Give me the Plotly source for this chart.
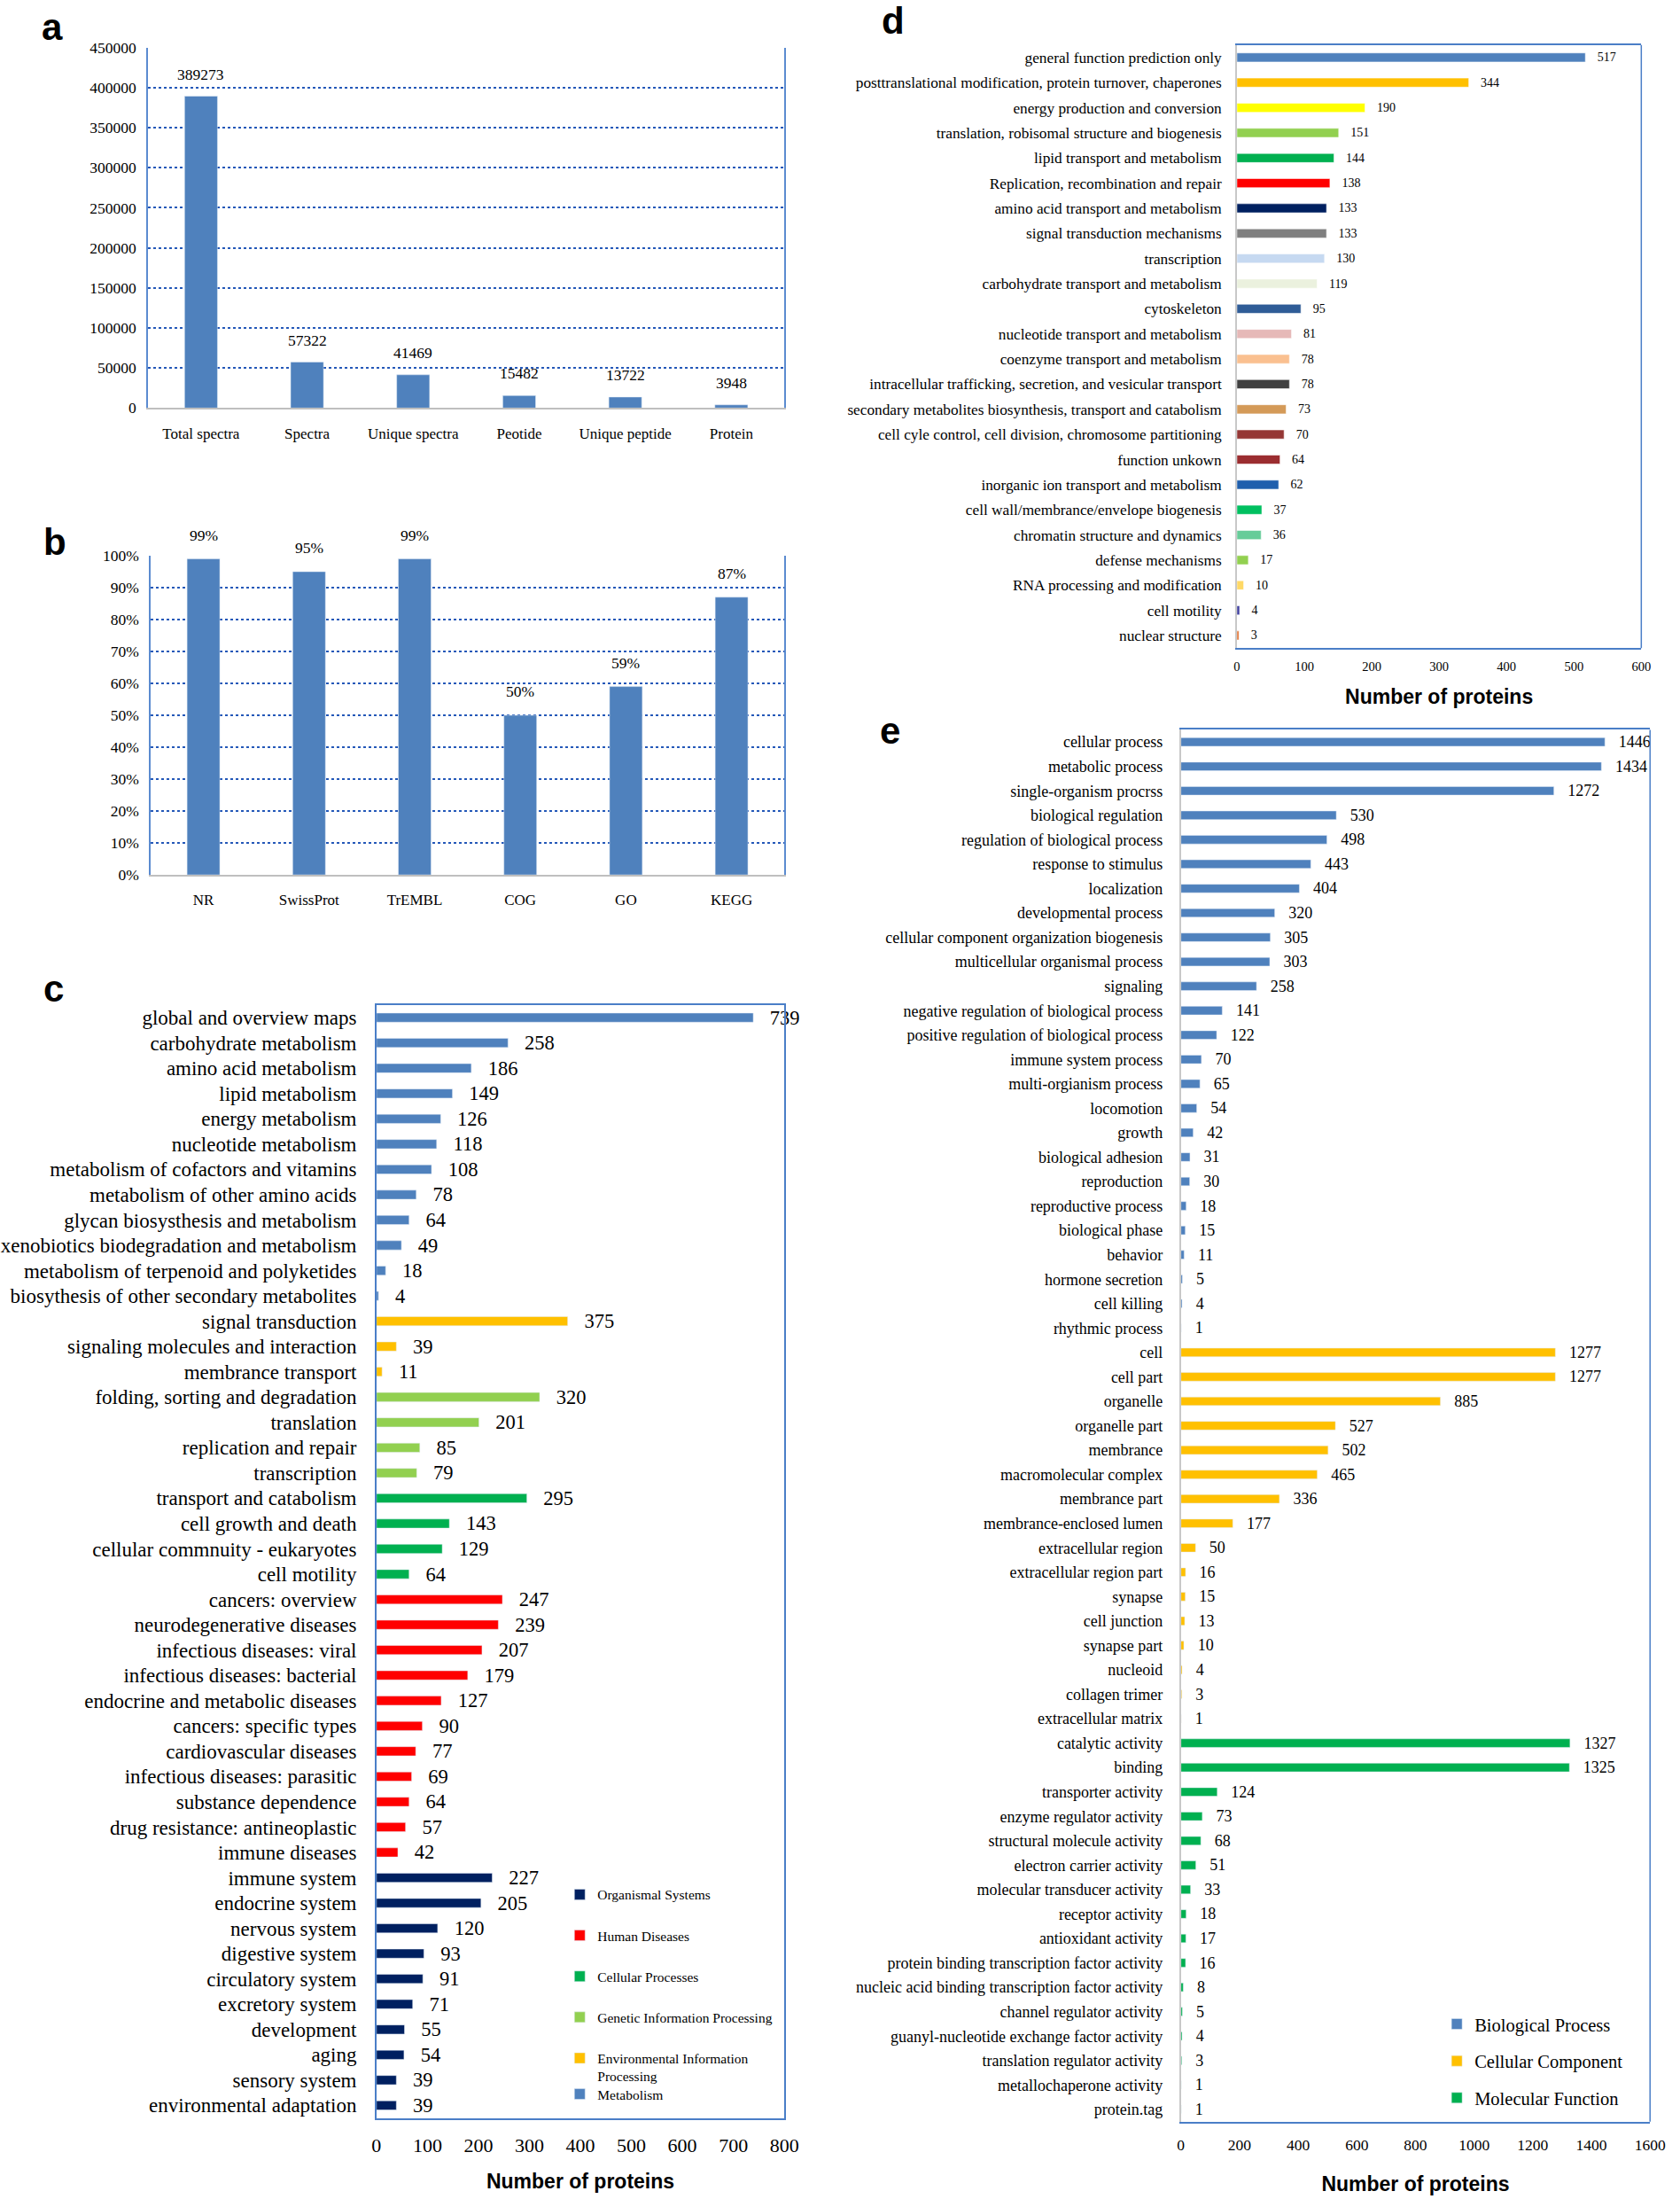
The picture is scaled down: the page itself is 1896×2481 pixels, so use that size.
import plotly.graph_objects as go

W, H = 1896, 2481

# ---------------- data ----------------
a_cats = ["Total spectra", "Spectra", "Unique spectra", "Peotide", "Unique peptide", "Protein"]
a_vals = [389273, 57322, 41469, 15482, 13722, 3948]

b_cats = ["NR", "SwissProt", "TrEMBL", "COG", "GO", "KEGG"]
b_vals = [0.99, 0.95, 0.99, 0.50, 0.59, 0.87]

c_met_cats = ["global and overview maps", "carbohydrate metabolism", "amino acid metabolism",
              "lipid metabolism", "energy metabolism", "nucleotide metabolism",
              "metabolism of cofactors and vitamins", "metabolism of other amino acids",
              "glycan biosysthesis and metabolism", "xenobiotics biodegradation and metabolism",
              "metabolism of terpenoid and polyketides", "biosythesis of other secondary metabolites"]
c_met_vals = [739, 258, 186, 149, 126, 118, 108, 78, 64, 49, 18, 4]
c_env_cats = ["signal transduction", "signaling molecules and interaction", "membrance transport"]
c_env_vals = [375, 39, 11]
c_gen_cats = ["folding, sorting and degradation", "translation", "replication and repair", "transcription"]
c_gen_vals = [320, 201, 85, 79]
c_cel_cats = ["transport and catabolism", "cell growth and death", "cellular commnuity - eukaryotes", "cell motility"]
c_cel_vals = [295, 143, 129, 64]
c_hum_cats = ["cancers: overview", "neurodegenerative diseases", "infectious diseases: viral",
              "infectious diseases: bacterial", "endocrine and metabolic diseases", "cancers: specific types",
              "cardiovascular diseases", "infectious diseases: parasitic", "substance dependence",
              "drug resistance: antineoplastic", "immune diseases"]
c_hum_vals = [247, 239, 207, 179, 127, 90, 77, 69, 64, 57, 42]
c_org_cats = ["immune system", "endocrine system", "nervous system", "digestive system",
              "circulatory system", "excretory system", "development", "aging",
              "sensory system", "environmental adaptation"]
c_org_vals = [227, 205, 120, 93, 91, 71, 55, 54, 39, 39]

d_cats = ["general function prediction only", "posttranslational modification, protein turnover, chaperones",
          "energy production and conversion", "translation, robisomal structure and biogenesis",
          "lipid transport and metabolism", "Replication, recombination and repair",
          "amino acid transport and metabolism", "signal transduction mechanisms", "transcription",
          "carbohydrate transport and metabolism", "cytoskeleton", "nucleotide transport and metabolism",
          "coenzyme transport and metabolism", "intracellular trafficking, secretion, and vesicular transport",
          "secondary metabolites biosynthesis, transport and catabolism",
          "cell cyle control, cell division, chromosome partitioning", "function unkown",
          "inorganic ion transport and metabolism", "cell wall/membrance/envelope biogenesis",
          "chromatin structure and dynamics", "defense mechanisms", "RNA processing and modification",
          "cell motility", "nuclear structure"]
d_vals = [517, 344, 190, 151, 144, 138, 133, 133, 130, 119, 95, 81, 78, 78, 73, 70, 64, 62, 37, 36, 17, 10, 4, 3]
d_colors = ["#4F81BD", "#FFC000", "#FFFF00", "#92D050", "#00B050", "#FF0000", "#002060", "#7F7F7F",
            "#C6D9F1", "#EBF1DE", "#2F5C97", "#E6B9B8", "#FAC090", "#404040", "#D49A58", "#953735",
            "#9B2D30", "#1F5FAD", "#00C060", "#66CC99", "#92D050", "#FFD966", "#4040A0", "#E07030"]

e_bp_cats = ["cellular process", "metabolic process", "single-organism procrss", "biological regulation",
             "regulation of biological process", "response to stimulus", "localization",
             "developmental process", "cellular component organization biogenesis",
             "multicellular organismal process", "signaling", "negative regulation of biological process",
             "positive regulation of biological process", "immune system process", "multi-orgianism process",
             "locomotion", "growth", "biological adhesion", "reproduction", "reproductive process",
             "biological phase", "behavior", "hormone secretion", "cell killing", "rhythmic process"]
e_bp_vals = [1446, 1434, 1272, 530, 498, 443, 404, 320, 305, 303, 258, 141, 122, 70, 65, 54, 42, 31, 30,
             18, 15, 11, 5, 4, 1]
e_cc_cats = ["cell", "cell part", "organelle", "organelle part", "membrance", "macromolecular complex",
             "membrance part", "membrance-enclosed lumen", "extracellular region", "extracellular region part",
             "synapse", "cell junction", "synapse part", "nucleoid", "collagen trimer", "extracellular matrix"]
e_cc_vals = [1277, 1277, 885, 527, 502, 465, 336, 177, 50, 16, 15, 13, 10, 4, 3, 1]
e_mf_cats = ["catalytic activity", "binding", "transporter activity", "enzyme regulator activity",
             "structural molecule activity", "electron carrier activity", "molecular transducer activity",
             "receptor activity", "antioxidant activity", "protein binding transcription factor activity",
             "nucleic acid binding transcription factor activity", "channel regulator activity",
             "guanyl-nucleotide exchange factor activity", "translation regulator activity",
             "metallochaperone activity", "protein.tag"]
e_mf_vals = [1327, 1325, 124, 73, 68, 51, 33, 18, 17, 16, 8, 5, 4, 3, 1, 1]

# ---------------- helpers ----------------
SERIF = "Liberation Serif, Times New Roman, serif"
SANS = "Liberation Sans, Arial, sans-serif"
FRAME = "#4A7EC7"
LEFTGRAY = "#C8C8C8"
NB = "\u00a0"


def fx(px):
    return px / W


def fy(px):
    return 1 - px / H


fig = go.Figure()

# panel a
fig.add_trace(go.Bar(x=a_cats, y=a_vals, width=0.31, marker_color="#4F81BD",
                     showlegend=False, xaxis="x", yaxis="y"))
# panel b
fig.add_trace(go.Bar(x=b_cats, y=b_vals, width=0.31, marker_color="#4F81BD",
                     showlegend=False, xaxis="x2", yaxis="y2"))

# panel c (legend order: Organismal first; Metabolism in its own legend box)
c_groups = [
    ("Organismal Systems", c_org_cats, c_org_vals, "#002060", "legend"),
    ("Human Diseases", c_hum_cats, c_hum_vals, "#FF0000", "legend"),
    ("Cellular Processes", c_cel_cats, c_cel_vals, "#00B050", "legend"),
    ("Genetic Information Processing", c_gen_cats, c_gen_vals, "#92D050", "legend"),
    ("Environmental Information<br>Processing", c_env_cats, c_env_vals, "#FFC000", "legend"),
    ("Metabolism", c_met_cats, c_met_vals, "#4F81BD", "legend3"),
]
for name, cats, vals, col, lg in c_groups:
    fig.add_trace(go.Bar(y=cats, x=vals, orientation="h", width=0.36, marker_color=col, name=name,
                         legendgroup=name, legend=lg,
                         text=[NB * 2 + "\u2009" + str(v) for v in vals], textposition="outside",
                         constraintext="none", cliponaxis=False,
                         textfont=dict(family=SERIF, size=22.5, color="#000"),
                         xaxis="x3", yaxis="y3"))
c_order = c_met_cats + c_env_cats + c_gen_cats + c_cel_cats + c_hum_cats + c_org_cats

# panel d
fig.add_trace(go.Bar(y=d_cats, x=d_vals, orientation="h", width=0.36, marker_color=d_colors,
                     marker_line=dict(color="rgba(255,255,255,0.55)", width=1),
                     text=[NB * 3 + str(v) for v in d_vals], textposition="outside", constraintext="none",
                     cliponaxis=False, textfont=dict(family=SERIF, size=14, color="#000"),
                     showlegend=False, xaxis="x4", yaxis="y4"))

# panel e
e_groups = [
    ("Biological Process", e_bp_cats, e_bp_vals, "#4F81BD"),
    ("Cellular Component", e_cc_cats, e_cc_vals, "#FFC000"),
    ("Molecular Function", e_mf_cats, e_mf_vals, "#00B050"),
]
for name, cats, vals, col in e_groups:
    fig.add_trace(go.Bar(y=cats, x=vals, orientation="h", width=0.35, marker_color=col, name=name,
                         legendgroup="e_" + name, legend="legend2",
                         text=[NB * 2 + "\u2009" + str(v) for v in vals], textposition="outside",
                         constraintext="none", cliponaxis=False,
                         textfont=dict(family=SERIF, size=18, color="#000"),
                         xaxis="x5", yaxis="y5"))
e_order = e_bp_cats + e_cc_cats + e_mf_cats


def tick_serif(s):
    return dict(family=SERIF, size=s, color="#000")


def ytitle_font():
    return dict(family=SANS, size=23, color="#000")


layout = dict(
    width=W, height=H, margin=dict(l=0, r=0, t=0, b=0),
    paper_bgcolor="white", plot_bgcolor="white", barmode="overlay",
    font=dict(family=SERIF, color="#000"),
    # a
    xaxis=dict(domain=[fx(163), fx(890)], anchor="y", type="category", range=[-0.5, 5.5],
               showline=True, linecolor="#BFBFBF", linewidth=2, ticks="", showgrid=False,
               tickfont=tick_serif(17), ticklabelstandoff=12),
    yaxis=dict(domain=[fy(454), fy(44)], anchor="x", range=[0, 450000], dtick=50000, tickformat="d",
               showgrid=True, gridcolor="#2458B8", griddash="dot", gridwidth=2, zeroline=False,
               showline=True, mirror=True, linecolor="#5B8BD0", linewidth=1.5, ticks="",
               tickfont=tick_serif(17.5), ticklabelstandoff=8),
    # b
    xaxis2=dict(domain=[fx(166), fx(890)], anchor="y2", type="category", range=[-0.5, 5.5],
                showline=True, linecolor="#BFBFBF", linewidth=2, ticks="", showgrid=False,
                tickfont=tick_serif(17), ticklabelstandoff=12),
    yaxis2=dict(domain=[fy(985), fy(622)], anchor="x2", range=[0, 1], dtick=0.1, tickformat=".0%",
                showgrid=True, gridcolor="#2458B8", griddash="dot", gridwidth=2, zeroline=False,
                showline=True, mirror=True, linecolor="#5B8BD0", linewidth=1.5, ticks="",
                tickfont=tick_serif(17.5), ticklabelstandoff=8),
    # c
    xaxis3=dict(domain=[fx(424), fx(890)], anchor="y3", range=[0, 800], dtick=100, showgrid=False,
                zeroline=False, showline=True, mirror=True, linecolor=FRAME, linewidth=1.5, ticks="",
                tickfont=tick_serif(22), ticklabelstandoff=10,
                title=dict(text="<b>Number of proteins</b>", font=ytitle_font(), standoff=21)),
    yaxis3=dict(domain=[fy(2399), fy(1133)], anchor="x3", type="category", categoryorder="array",
                categoryarray=c_order, range=[len(c_order) - 0.5, -0.5], showgrid=False,
                showline=True, mirror=True, linecolor=FRAME, linewidth=1.5, ticks="",
                tickfont=tick_serif(23), ticklabelstandoff=16),
    # d
    xaxis4=dict(domain=[fx(1407), fx(1869)], anchor="y4", range=[0, 600], dtick=100, showgrid=False,
                zeroline=False, showline=True, mirror=True, linecolor=FRAME, linewidth=1.5, ticks="",
                tickfont=tick_serif(14.5), ticklabelstandoff=7,
                title=dict(text="<b>Number of proteins</b>", font=ytitle_font(), standoff=19)),
    yaxis4=dict(domain=[fy(727), fy(41)], anchor="x4", type="category", categoryorder="array",
                categoryarray=d_cats, range=[len(d_cats) - 0.5, -0.5], showgrid=False,
                showline=True, mirror=False, linecolor=LEFTGRAY, linewidth=1.5, ticks="",
                tickfont=tick_serif(17.3), ticklabelstandoff=12),
    # e
    xaxis5=dict(domain=[fx(1343), fx(1879)], anchor="y5", range=[0, 1600], dtick=200, showgrid=False,
                zeroline=False, showline=True, mirror=True, linecolor=FRAME, linewidth=1.5, ticks="",
                tickfont=tick_serif(17.5), ticklabelstandoff=10,
                title=dict(text="<b>Number of proteins</b>", font=ytitle_font(), standoff=27)),
    yaxis5=dict(domain=[fy(2403), fy(820)], anchor="x5", type="category", categoryorder="array",
                categoryarray=e_order, range=[len(e_order) - 0.5, -0.5], showgrid=False,
                showline=True, mirror=False, linecolor=LEFTGRAY, linewidth=1.5, ticks="",
                tickfont=tick_serif(18), ticklabelstandoff=15),
    legend=dict(x=fx(636), y=fy(2128), xanchor="left", yanchor="top", bgcolor="rgba(0,0,0,0)",
                font=dict(family=SERIF, size=15.5, color="#000"), traceorder="grouped",
                tracegroupgap=23, valign="top", itemwidth=30),
    legend3=dict(x=fx(636), y=fy(2355), xanchor="left", yanchor="top", bgcolor="rgba(0,0,0,0)",
                 font=dict(family=SERIF, size=15.5, color="#000"), itemwidth=30),
    legend2=dict(x=fx(1638), y=fy(2272), xanchor="left", yanchor="top", bgcolor="rgba(0,0,0,0)",
                 font=dict(family=SERIF, size=20.5, color="#000"), traceorder="grouped",
                 tracegroupgap=12, itemwidth=30),
)

# right-hand frame edges for d and e (left edge is light gray there)
layout["shapes"] = [
    dict(type="line", xref="x4 domain", yref="y4 domain", x0=1, x1=1, y0=0, y1=1,
         line=dict(color=FRAME, width=1.5)),
    dict(type="line", xref="x5 domain", yref="y5 domain", x0=1, x1=1, y0=0, y1=1,
         line=dict(color=FRAME, width=1.5)),
]

ann = []
letters = [("a", 54, 21), ("b", 57, 606), ("c", 55, 1114), ("d", 1014, 14), ("e", 1011, 821)]
for t, x, y in letters:
    ann.append(dict(text="<b>%s</b>" % t, x=fx(x), y=fy(y), xref="paper", yref="paper", showarrow=False,
                    xanchor="center", yanchor="middle", font=dict(family=SANS, size=42, color="#000")))
# value labels above bars in a and b
for c, v in zip(a_cats, a_vals):
    ann.append(dict(text=str(v), x=c, y=v, xref="x", yref="y", showarrow=False, yanchor="middle",
                    yshift=25, font=dict(family=SERIF, size=17.5, color="#000")))
for c, v in zip(b_cats, b_vals):
    ann.append(dict(text="%d%%" % round(v * 100), x=c, y=v, xref="x2", yref="y2", showarrow=False,
                    yanchor="middle", yshift=27, font=dict(family=SERIF, size=17.5, color="#000")))
layout["annotations"] = ann

fig.update_layout(**layout)
fig.write_html("out.html", config={"displayModeBar": False},
               post_script="document.documentElement.style.overflow='hidden';"
                           "document.body.style.margin='0';document.body.style.overflow='hidden';")
